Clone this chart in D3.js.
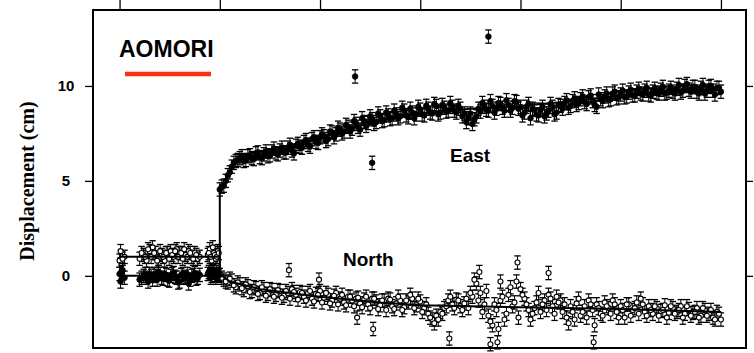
<!DOCTYPE html>
<html>
<head>
<meta charset="utf-8">
<script src="https://cdn.jsdelivr.net/npm/d3@7"></script>
<style>
html,body{margin:0;padding:0;background:#fff;}
svg{display:block;}
</style>
</head>
<body>
<svg id="chart" width="754" height="353"></svg>
<script>
// ---------- DATA ----------
const stationName = "AOMORI";
const yAxisTitle = "Displacement (cm)";
const yTickValues = [0, 5, 10];
const xTickValues = [0, 1, 2, 3, 4, 5, 6];
const errorHalf = 0.35; // cm

// pre-earthquake epochs (time in tick units)
const preTimes = [0.00,0.01,0.02,0.05,0.20,0.24,0.27,0.30,0.33,0.36,0.39,0.42,0.45,0.48,0.51,0.54,0.57,0.60,0.63,0.66,0.69,0.72,0.75,0.78,0.80,0.88,0.90,0.92,0.94,0.96,0.98];
const preEast  = [0.1,-0.3,0.2,-0.1,-0.2,0.0,-0.1,0.1,-0.2,0.0,0.2,-0.1,0.1,-0.2,0.0,0.15,-0.1,-0.3,0.1,-0.05,-0.4,0.0,0.15,-0.1,0.05,0.1,0.3,0.0,0.2,-0.1,0.1];
const preNorth = [0.8,1.3,0.6,1.0,0.9,1.1,0.8,1.3,1.5,1.2,0.9,1.1,0.8,1.2,1.3,1.0,1.4,1.2,0.9,1.1,1.3,1.0,1.2,0.9,1.0,1.1,1.4,0.8,1.2,0.9,1.3];
const preTimesB = [0.03,0.22,0.255,0.285,0.315,0.345,0.375,0.405,0.435,0.465,0.495,0.525,0.555,0.585,0.615,0.645,0.675,0.705,0.735,0.765,0.89,0.91,0.93,0.95,0.97,0.99];
const preEastB  = [0.3,-0.1,0.1,-0.3,0.0,0.1,-0.2,0.1,-0.15,0.05,-0.25,0.1,-0.05,-0.35,0.05,-0.1,0.1,-0.2,0.05,-0.15,0.2,-0.1,0.25,0.05,0.2,0.0];
const preNorthB = [0.9,1.2,1.0,1.4,1.0,1.2,0.8,1.3,1.0,1.2,0.9,1.1,1.3,1.0,1.2,1.4,1.0,1.2,0.9,1.1,1.2,1.0,1.5,1.1,1.0,1.2];

// post-earthquake epochs: series A start 1.00, series B start 1.02, each every 0.04
const postStartA = 1.0, postStartB = 1.02, postStep = 0.04;
const postEastA = [
 4.55,4.75,5.3,5.75,6.05,6.2,6.05,6.3,6.2,6.45,
 6.25,6.4,6.3,6.55,6.45,6.6,6.5,6.75,6.6,6.85,
 6.8,7.05,6.9,7.2,7.05,7.3,7.35,7.2,7.55,7.45,
 7.7,7.6,7.85,7.75,8.0,7.7,8.1,8.05,8.25,8.1,
 8.4,8.2,8.45,8.3,8.5,8.4,8.7,8.35,8.6,8.5,
 8.75,8.45,8.8,8.55,8.95,8.6,8.85,8.7,8.9,8.6,
 8.8,8.55,8.3,8.0,8.4,8.65,8.9,8.7,8.95,8.8,
 9.05,8.7,9.0,8.85,9.15,8.9,8.6,9.05,8.8,8.5,
 8.75,8.4,8.7,8.9,8.6,8.95,9.1,8.85,9.2,9.0,
 9.3,9.15,9.4,9.2,8.9,9.3,9.45,9.25,9.6,9.35,
 9.55,9.4,9.65,9.5,9.7,9.6,9.75,9.55,9.7,9.65,
 9.8,9.6,9.75,9.7,9.85,9.65,10.0,9.8,9.95,9.7,
 9.9,9.6,9.95,9.75,9.9,9.7];
const postEastB = [
 4.7,5.0,5.45,5.95,6.1,6.3,6.1,6.35,6.15,6.5,
 6.2,6.55,6.35,6.7,6.4,6.75,6.5,6.9,6.45,6.95,
 6.75,7.15,6.8,7.3,7.0,7.45,7.1,7.6,7.3,7.8,
 7.5,7.95,7.6,8.15,7.85,8.3,7.9,8.4,8.0,8.55,
 8.15,8.6,8.25,8.7,8.3,8.85,8.45,8.8,8.3,8.9,
 8.5,8.95,8.6,9.05,8.5,9.0,8.65,9.1,8.7,8.95,
 8.4,8.1,8.55,8.25,8.8,9.1,8.75,9.2,8.6,9.1,
 8.85,9.25,8.7,9.2,8.8,8.45,8.9,8.3,8.75,8.45,
 8.9,8.55,9.05,8.5,9.0,8.8,9.25,8.95,9.35,9.1,
 9.45,9.05,9.5,9.0,9.55,9.2,9.6,9.3,9.7,9.4,
 9.75,9.45,9.8,9.5,9.85,9.55,9.9,9.5,9.85,9.6,
 9.95,9.65,9.9,9.6,10.05,9.75,10.1,9.7,9.95,9.6,
 10.05,9.75,10.0,9.55,9.9];
const postNorthA = [
 0.05,-0.2,-0.35,-0.25,-0.6,-0.45,-0.75,-0.55,-0.8,-0.65,
 -0.9,-0.7,-0.95,-0.75,-1.0,-0.8,-1.05,-0.9,-0.7,-1.0,
 -0.85,-1.1,-0.9,-1.2,-0.95,-0.8,-1.15,-1.0,-1.3,-0.9,
 -1.2,-1.4,-1.1,-1.3,-1.2,-1.45,-1.25,-1.5,-1.2,-1.35,
 -1.55,-1.3,-1.2,-1.6,-1.45,-1.3,-1.65,-1.4,-1.2,-1.55,
 -1.35,-1.7,-2.0,-2.3,-2.1,-1.9,-1.7,-1.3,-1.5,-1.25,
 -1.6,-1.45,-1.7,-1.1,-0.4,-0.9,-1.5,-2.1,-2.6,-1.8,
 -1.3,-2.3,-1.0,-1.6,-0.3,-0.7,-1.2,-1.8,-2.0,-1.4,
 -1.9,-1.3,-1.0,-1.6,-1.1,-1.3,-1.5,-2.5,-1.9,-1.45,
 -2.1,-1.6,-1.3,-1.8,-1.5,-2.0,-1.4,-1.7,-1.3,-1.9,
 -1.6,-2.2,-1.5,-1.8,-1.4,-1.2,-1.9,-1.6,-2.0,-1.7,
 -1.85,-1.55,-1.95,-1.7,-1.9,-1.6,-2.0,-1.75,-1.95,-1.7,
 -2.1,-1.8,-2.0,-2.2,-1.9,-2.3];
const postNorthB = [
 -0.1,-0.3,-0.15,-0.5,-0.35,-0.65,-0.45,-0.85,-0.6,-0.95,
 -0.6,-1.05,-0.7,-1.1,-0.75,-1.15,-0.8,-1.2,-0.85,-1.25,
 -0.9,-1.3,-0.8,-1.35,-1.0,-1.4,-0.9,-1.45,-1.05,-1.5,
 -1.0,-1.55,-1.1,-1.6,-1.15,-1.65,-1.1,-1.7,-1.2,-1.75,
 -1.3,-1.8,-1.25,-1.75,-1.1,-1.8,-1.3,-1.0,-1.7,-1.2,
 -1.9,-1.5,-2.2,-2.5,-2.3,-2.0,-1.6,-1.1,-1.7,-1.3,
 -1.8,-1.2,-0.9,-0.2,-1.3,-1.9,-0.8,-2.4,-1.5,-2.8,
 -1.1,-2.0,-0.6,-1.4,-2.2,-1.0,-1.5,-2.3,-1.7,-0.9,
 -1.5,-1.8,-1.2,-2.0,-1.4,-1.9,-2.2,-1.6,-2.3,-1.2,
 -1.9,-2.2,-1.5,-2.6,-1.7,-2.1,-1.6,-2.0,-1.5,-2.2,
 -1.8,-1.5,-2.1,-1.7,-2.0,-1.5,-2.1,-1.8,-1.6,-2.1,
 -1.8,-2.2,-1.6,-2.0,-1.8,-2.2,-1.6,-2.1,-1.9,-2.2,
 -1.7,-2.1,-1.8,-2.3,-2.0];

// isolated outlying epochs
const eastOutlierTimes  = [2.35, 2.52, 3.68];
const eastOutlierValues = [10.5, 5.95, 12.6];
const northOutlierTimes  = [1.69, 1.99, 2.37, 2.53, 3.29, 3.59, 3.70, 3.77, 3.80, 3.97, 4.28, 4.73];
const northOutlierValues = [0.3, -0.2, -2.2, -2.8, -3.3, 0.2, -3.6, -3.5, -0.3, 0.7, 0.15, -3.5];

// model (fitted) curves
const eastFitTimes  = [0,1.0,1.0,1.05,1.1,1.15,1.25,1.4,1.8,2.2,2.6,3.0,3.5,4.0,4.5,5.0,5.5,6.0];
const eastFitValues = [0,0,4.6,5.0,5.5,5.9,6.15,6.3,6.9,7.6,8.2,8.55,8.8,8.95,9.2,9.5,9.75,9.8];
const northFitTimes  = [0,1.0,1.0,1.1,1.4,2.0,2.6,3.0,3.5,4.0,5.0,6.0];
const northFitValues = [1.0,1.0,0.1,-0.3,-0.7,-1.1,-1.4,-1.55,-1.6,-1.65,-1.75,-1.9];

const seriesLabels = ["East", "North"];

// ---------- BUILD ----------
function pts(ts, vs){ return ts.map((t,i)=>({t, v: vs[i]})); }
function regular(start, vs){ return vs.map((v,i)=>({t: start + i*postStep, v})); }
const eastPts = pts(preTimes, preEast).concat(pts(preTimesB, preEastB),
  regular(postStartA, postEastA), regular(postStartB, postEastB),
  pts(eastOutlierTimes, eastOutlierValues));
const northPts = pts(preTimes, preNorth).concat(pts(preTimesB, preNorthB),
  regular(postStartA, postNorthA), regular(postStartB, postNorthB),
  pts(northOutlierTimes, northOutlierValues));

const svg = d3.select("#chart");
const L = 93, R = 746, T = 10, B = 348;

const x = d3.scaleLinear().domain([-0.265, 6.25]).range([L, R]);
const y = d3.scaleLinear().domain([-3.8, 14.0]).range([B, T]);

// axes
svg.append("g").attr("transform", `translate(0,${T})`)
  .call(d3.axisTop(x).tickValues(xTickValues).tickSize(10).tickFormat(""))
  .call(g => { g.select(".domain").remove(); g.selectAll("line").attr("stroke","#000").attr("stroke-width",1.3); });

svg.append("g").attr("transform", `translate(${R},0)`)
  .call(d3.axisRight(y).tickValues(yTickValues).tickSize(7).tickFormat(""))
  .call(g => { g.select(".domain").remove(); g.selectAll("line").attr("stroke","#000").attr("stroke-width",1.3); });

const yAx = svg.append("g").attr("transform", `translate(${L},0)`)
  .call(d3.axisLeft(y).tickValues(yTickValues).tickSize(8).tickFormat(d3.format("d")))
  .call(g => { g.select(".domain").remove(); g.selectAll("line").attr("stroke","#000").attr("stroke-width",1.3); });
yAx.selectAll("text")
  .attr("x", -27).attr("text-anchor","middle")
  .attr("font-family","'Liberation Sans', Arial, sans-serif")
  .attr("font-weight","bold").attr("font-size", 15).attr("fill","#000");

// frame
svg.append("rect").attr("x", L).attr("y", T).attr("width", R-L).attr("height", B-T)
  .attr("fill","none").attr("stroke","#000").attr("stroke-width",2);

// y title
svg.append("text")
  .attr("transform", `translate(34,${(86+276)/2}) rotate(-90)`)
  .attr("text-anchor","middle")
  .attr("font-family","'Liberation Serif', 'Times New Roman', serif")
  .attr("font-weight","bold").attr("font-size", 20)
  .text(yAxisTitle);

// station label + red bar
svg.append("text").attr("x", 119).attr("y", 57)
  .attr("font-family","'Liberation Sans', Arial, sans-serif")
  .attr("font-weight","bold").attr("font-size", 23).text(stationName);
svg.append("line").attr("x1",125).attr("x2",211).attr("y1",74).attr("y2",74)
  .attr("stroke","#f7330f").attr("stroke-width",4.5);

// error bars + markers
function drawSeries(data, filled){
  const g = svg.append("g");
  const eb = g.selectAll("g.eb").data(data).join("g");
  eb.append("line")
    .attr("x1", d=>x(d.t)).attr("x2", d=>x(d.t))
    .attr("y1", d=>y(d.v+errorHalf)).attr("y2", d=>y(d.v-errorHalf))
    .attr("stroke","#000").attr("stroke-width",1);
  eb.append("line")
    .attr("x1", d=>x(d.t)-3.2).attr("x2", d=>x(d.t)+3.2)
    .attr("y1", d=>y(d.v+errorHalf)).attr("y2", d=>y(d.v+errorHalf))
    .attr("stroke","#000").attr("stroke-width",1.3);
  eb.append("line")
    .attr("x1", d=>x(d.t)-3.2).attr("x2", d=>x(d.t)+3.2)
    .attr("y1", d=>y(d.v-errorHalf)).attr("y2", d=>y(d.v-errorHalf))
    .attr("stroke","#000").attr("stroke-width",1.3);
  g.selectAll("circle").data(data).join("circle")
    .attr("cx", d=>x(d.t)).attr("cy", d=>y(d.v))
    .attr("r", filled ? 2.8 : 2.5)
    .attr("fill", filled ? "#000" : "#fff")
    .attr("stroke","#000").attr("stroke-width", filled ? 0.8 : 1.1);
}
drawSeries(northPts, false);
drawSeries(eastPts, true);

// fitted lines
const line = d3.line().x(d=>x(d.t)).y(d=>y(d.v));
svg.append("path").datum(pts(eastFitTimes, eastFitValues)).attr("d", line)
  .attr("fill","none").attr("stroke","#000").attr("stroke-width",2);
svg.append("path").datum(pts(northFitTimes, northFitValues)).attr("d", line)
  .attr("fill","none").attr("stroke","#000").attr("stroke-width",2);

// series labels
svg.append("text").attr("x", 450).attr("y", 162)
  .attr("font-family","'Liberation Sans', Arial, sans-serif")
  .attr("font-weight","bold").attr("font-size", 19).text(seriesLabels[0]);
svg.append("text").attr("x", 343).attr("y", 266)
  .attr("font-family","'Liberation Sans', Arial, sans-serif")
  .attr("font-weight","bold").attr("font-size", 19).text(seriesLabels[1]);
</script>
</body>
</html>
